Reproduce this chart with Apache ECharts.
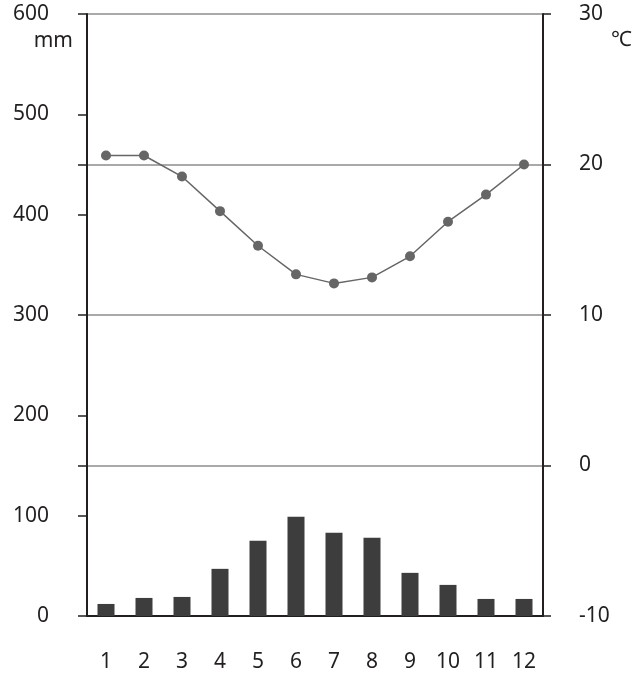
<!DOCTYPE html>
<html>
<head>
<meta charset="utf-8">
<script src="https://cdn.jsdelivr.net/npm/echarts@6/dist/echarts.min.js"></script>
<style>html,body{margin:0;padding:0;background:#fff}#c{width:636px;height:678px}</style>
</head>
<body>
<div id="c"></div>
<script>
const months = ['1','2','3','4','5','6','7','8','9','10','11','12'];
const precipitation = [12, 18, 19, 47, 75, 99, 83, 78, 43, 31, 17, 17];
const temperature = [20.6, 20.6, 19.2, 16.9, 14.6, 12.7, 12.1, 12.5, 13.9, 16.2, 18.0, 20.0];
const leftTicks = {min: 0, max: 600, interval: 100};
const rightTicks = {min: -10, max: 30, interval: 10};

const dark = '#231f20';
const font = 'Noto Sans';
const chart = echarts.init(document.getElementById('c'));
chart.setOption({
  animation: false,
  textStyle: {fontFamily: font},
  grid: {left: 87, right: 93, top: 14, bottom: 62},
  xAxis: {
    type: 'category',
    data: months,
    axisLine: {lineStyle: {color: dark, width: 2}},
    axisTick: {length: 11, lineStyle: {color: dark, width: 1.5}},
    axisLabel: {color: dark, fontSize: 21, margin: 36, fontFamily: font}
  },
  yAxis: [
    {
      type: 'value', position: 'left',
      min: leftTicks.min, max: leftTicks.max, interval: leftTicks.interval,
      axisLine: {show: true, lineStyle: {color: dark, width: 2}},
      axisTick: {show: true, length: 9, lineStyle: {color: dark, width: 1.5}},
      axisLabel: {color: dark, fontSize: 21, margin: 38, fontFamily: font},
      splitLine: {show: false}
    },
    {
      type: 'value', position: 'right',
      min: rightTicks.min, max: rightTicks.max, interval: rightTicks.interval,
      axisLine: {show: true, lineStyle: {color: dark, width: 2}},
      axisTick: {show: true, length: 8, lineStyle: {color: dark, width: 1.5}},
      axisLabel: {color: dark, fontSize: 21, margin: 36, fontFamily: font},
      splitLine: {show: true, lineStyle: {color: '#8c8c8c', width: 1.5}}
    },
    {
      type: 'value', position: 'left',
      min: 0, max: 600, interval: 150,
      axisLine: {show: false},
      axisTick: {show: true, length: 9, lineStyle: {color: dark, width: 1.5}},
      axisLabel: {show: false},
      splitLine: {show: false}
    }
  ],
  graphic: [
    {type: 'text', right: 636 - 73, top: 31, style: {text: 'mm', font: '21px "Noto Sans"', fill: dark}},
    {type: 'text', left: 611, top: 30, style: {text: '℃', font: '21px "Noto Sans"', fill: dark}}
  ],
  series: [
    {
      type: 'bar', yAxisIndex: 0, data: precipitation,
      barWidth: 17, itemStyle: {color: '#3d3d3d'}
    },
    {
      type: 'line', yAxisIndex: 1, data: temperature,
      symbol: 'circle', symbolSize: 10,
      lineStyle: {color: '#666666', width: 1.5},
      itemStyle: {color: '#666666'}
    }
  ]
});
</script>
</body>
</html>
